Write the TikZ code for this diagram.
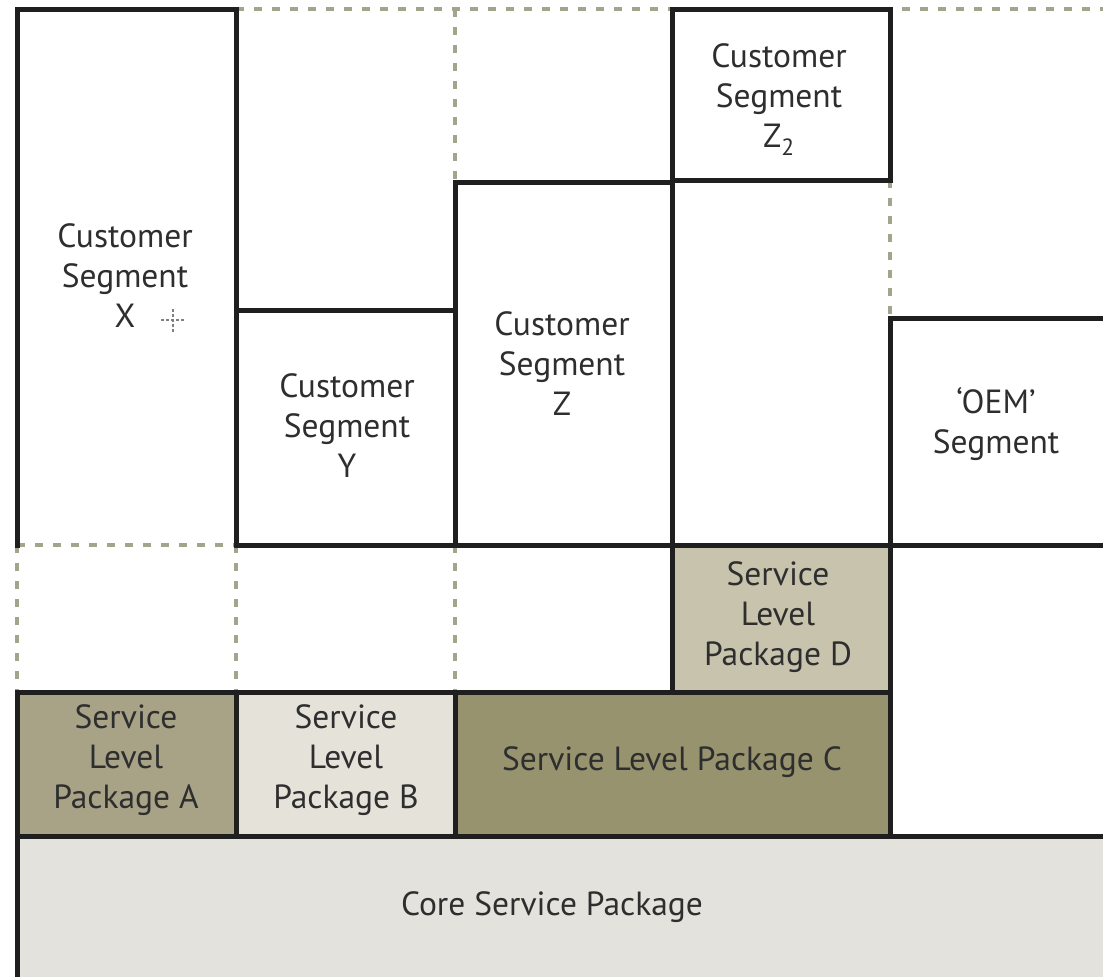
\documentclass[tikz,border=0pt]{standalone}
\usepackage{fontspec}
\setmainfont{PT Sans}
\definecolor{pkgA}{HTML}{A8A387}
\definecolor{pkgB}{HTML}{E4E2D9}
\definecolor{pkgC}{HTML}{97936F}
\definecolor{pkgD}{HTML}{C7C3AD}
\definecolor{core}{HTML}{E4E2DC}
\definecolor{guide}{HTML}{A4A38C}
\definecolor{ink}{HTML}{2E2E2E}
\tikzset{
  wall/.style={line width=5pt, black!88, line cap=rect},
  guideline/.style={line width=4.5pt, guide, dash pattern=on 8pt off 10pt},
  label/.style={text=ink, align=center, font=\fontsize{33.5}{40}\selectfont, inner sep=0pt},
}
\begin{document}
\begin{tikzpicture}[x=1pt, y=-1pt]
\useasboundingbox (0,0) rectangle (1103,977);
\fill[white] (0,0) rectangle (1103,977);

% package fills
\fill[pkgD] (672,545) rectangle (890,692);
\fill[pkgA] (17,692) rectangle (236,836);
\fill[pkgB] (236,692) rectangle (455,836);
\fill[pkgC] (455,692) rectangle (890,836);
\fill[core] (17,836) rectangle (1103,977);

% dashed guide lines
\draw[guideline] (236,9) -- (1103,9);
\draw[guideline] (455,9) -- (455,182);
\draw[guideline] (890,180) -- (890,318);
\draw[guideline] (17,545) -- (236,545);
\draw[guideline] (17,545) -- (17,692);
\draw[guideline] (236,545) -- (236,692);
\draw[guideline] (455,545) -- (455,692);

% segment boxes
\draw[wall] (17,545) -- (17,9) -- (236,9) -- (236,545);
\draw[wall] (236,310) -- (455,310);
\draw[wall] (455,545) -- (455,182) -- (672,182) -- (672,545);
\draw[wall] (672,9) rectangle (890,180);
\draw[wall] (890,545) -- (890,318) -- (1103,318);
\draw[wall] (236,545) -- (1103,545);

% package boxes
\draw[wall] (672,545) -- (672,692);
\draw[wall] (890,545) -- (890,836);
\draw[wall] (17,692) -- (890,692);
\draw[wall] (17,692) -- (17,977);
\draw[wall] (236,692) -- (236,836);
\draw[wall] (455,692) -- (455,836);
\draw[wall] (17,836) -- (1103,836);

% labels
\node[label] (segX) at (125,276) {Customer\\Segment\\X};
\node[label] (segY) at (347,426) {Customer\\Segment\\Y};
\node[label] (segZ) at (562,364) {Customer\\Segment\\Z};
\node[label] (segZtwo) at (779,100) {Customer\\Segment\\Z\textsubscript{2}};
\node[label] (segOEM) at (996,424) {‘OEM’\\Segment};
\node[label] (slpD) at (778,617) {Service\\Level\\Package D};
\node[label] (slpA) at (126,760) {Service\\Level\\Package A};
\node[label] (slpB) at (346,760) {Service\\Level\\Package B};
\node[label] (slpC) at (672,762) {Service Level Package C};
\node[label] (corePkg) at (552,907) {Core Service Package};

% small crosshair marker
\coordinate (cross) at (173,320);
\draw[gray, line width=1.2pt, dash pattern=on 3pt off 2pt]
  ([xshift=-12pt]cross) -- ([xshift=12pt]cross)
  ([yshift=-12pt]cross) -- ([yshift=12pt]cross);
\end{tikzpicture}
\end{document}
